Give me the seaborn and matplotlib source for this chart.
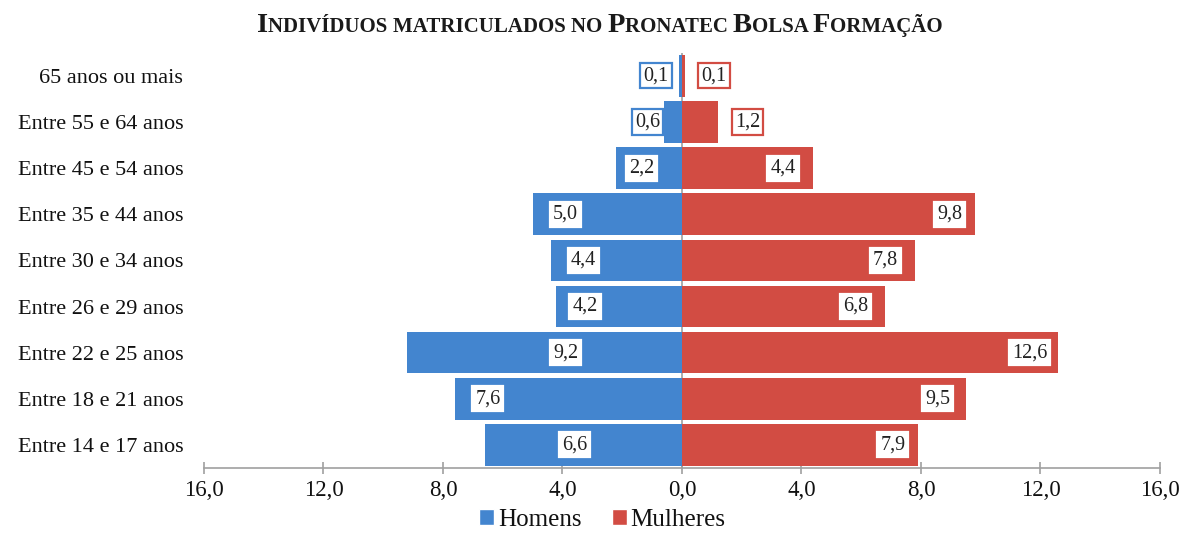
import matplotlib
matplotlib.use("Agg")
import matplotlib.pyplot as plt
import seaborn as sns
import pandas as pd
from matplotlib.offsetbox import TextArea, HPacker, AnchoredOffsetbox
from matplotlib.ticker import FixedLocator, FuncFormatter
from matplotlib.patches import Patch

# ---- data ----
faixas = ["65 anos ou mais", "Entre 55 e 64 anos", "Entre 45 e 54 anos",
          "Entre 35 e 44 anos", "Entre 30 e 34 anos", "Entre 26 e 29 anos",
          "Entre 22 e 25 anos", "Entre 18 e 21 anos", "Entre 14 e 17 anos"]
homens = [0.1, 0.6, 2.2, 5.0, 4.4, 4.2, 9.2, 7.6, 6.6]
mulheres = [0.1, 1.2, 4.4, 9.8, 7.8, 6.8, 12.6, 9.5, 7.9]
homens_label_x = [-0.87, -1.15, -1.35, -3.9, -3.3, -3.25, -3.9, -6.5, -3.6]
mulheres_label_x = [1.07, 2.2, 3.38, 8.96, 6.8, 5.8, 11.64, 8.56, 7.06]
homens_outside = [True, True, False, False, False, False, False, False, False]
mulheres_outside = [True, True, False, False, False, False, False, False, False]
ticks = [-16, -12, -8, -4, 0, 4, 8, 12, 16]
titulo = "Indivíduos matriculados no Pronatec Bolsa Formação"

blue = "#4385cf"
red = "#d24c43"

df = pd.DataFrame({
    "faixa": faixas * 2,
    "valor": [-v for v in homens] + mulheres,
    "sexo": ["Homens"] * len(faixas) + ["Mulheres"] * len(faixas),
})

sns.set_theme(style="white")
plt.rcParams["font.family"] = ["Liberation Serif", "DejaVu Serif"]

fig = plt.figure(figsize=(11.81, 5.36), dpi=100)
ax = fig.add_axes([0.1727, 0.1269, 0.8095, 0.7746])

sns.barplot(data=df, y="faixa", x="valor", hue="sexo", order=faixas,
            palette={"Homens": blue, "Mulheres": red}, dodge=False,
            width=0.9, orient="h", ax=ax, legend=False, zorder=2,
            edgecolor="none", saturation=1)

ax.set_xlim(-16, 16)
ax.set_ylim(8.5, -0.5)
ax.axvline(0, color="#a0a0a0", lw=1.2, zorder=1, ymin=0, ymax=1)
for s in ["top", "right", "left"]:
    ax.spines[s].set_visible(False)
ax.spines["bottom"].set_color("#a0a0a0")
ax.spines["bottom"].set_linewidth(1.2)
ax.xaxis.set_major_locator(FixedLocator(ticks))
ax.xaxis.set_major_formatter(FuncFormatter(lambda v, p: f"{abs(v):.1f}".replace(".", ",")))
ax.tick_params(axis="x", direction="inout", length=8, width=1.2, color="#a0a0a0",
               labelsize=16.5, pad=5, bottom=True, labelcolor="#111111")
ax.tick_params(axis="y", length=0, labelsize=16, pad=15, labelcolor="#111111")
ax.set_xlabel("")
ax.set_ylabel("")

def fmt(v):
    return f"{v:.1f}".replace(".", ",")

for i in range(len(faixas)):
    ec = blue if homens_outside[i] else "white"
    ax.text(homens_label_x[i], i, fmt(homens[i]), ha="center", va="center",
            fontsize=14.5, color="#222222", zorder=4,
            bbox=dict(boxstyle="square,pad=0.15", fc="white", ec=ec, lw=1.6))
    ec = red if mulheres_outside[i] else "white"
    ax.text(mulheres_label_x[i], i, fmt(mulheres[i]), ha="center", va="center",
            fontsize=14.5, color="#222222", zorder=4,
            bbox=dict(boxstyle="square,pad=0.15", fc="white", ec=ec, lw=1.6))

# small-caps title
pieces = []
words = titulo.split(" ")
big = dict(fontsize=20.5, fontweight="bold", color="#1a1a1a", family="Liberation Serif")
small = dict(fontsize=15, fontweight="bold", color="#1a1a1a", family="Liberation Serif")
for wi, w in enumerate(words):
    tail = " " if wi < len(words) - 1 else ""
    if w[0].isupper():
        pieces.append(TextArea(w[0], textprops=big))
        pieces.append(TextArea(w[1:].upper() + tail, textprops=small))
    else:
        pieces.append(TextArea(w.upper() + tail, textprops=small))
pack = HPacker(children=pieces, align="baseline", pad=0, sep=0)
anch = AnchoredOffsetbox(loc="center", child=pack, frameon=False,
                         bbox_to_anchor=(0.508, 0.952), bbox_transform=fig.transFigure,
                         borderpad=0)
fig.add_artist(anch)

handles = [Patch(facecolor=blue, label="Homens"), Patch(facecolor=red, label="Mulheres")]
fig.legend(handles=handles, loc="lower center", bbox_to_anchor=(0.51, 0.0), ncol=2,
           frameon=False, fontsize=18, handlelength=0.6, handleheight=0.6,
           handletextpad=0.15, columnspacing=1.2, labelcolor="#111111",
           borderaxespad=0.1, borderpad=0.1)

fig.savefig("out.png", dpi=100)
